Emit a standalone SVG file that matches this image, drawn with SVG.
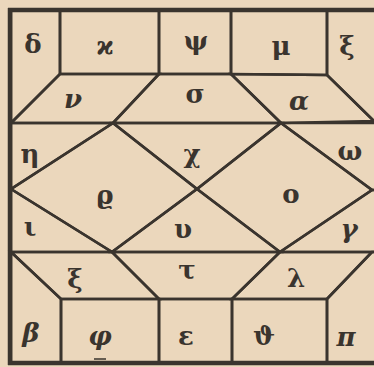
<svg xmlns="http://www.w3.org/2000/svg" width="374" height="367" viewBox="0 0 374 367">
<style>
.c{fill:none;stroke:#3a342e;stroke-width:2.6;stroke-linejoin:miter}
.t{font-family:"DejaVu Serif","Liberation Serif",serif;font-weight:bold;font-size:26px;fill:#3a342e;text-anchor:middle;dominant-baseline:central}
.i{font-style:italic}
.b{fill:none;stroke:#3a342e;stroke-width:4.5}
</style>
<rect width="374" height="367" fill="#ebd7bc"/>
<g id="cell-delta"><polygon class="c" points="11,10 60,10 60,74 11,123"/><text class="t" x="33" y="44">δ</text></g>
<g id="cell-kappa"><polygon class="c" points="60,10 159,10 159,74 60,74"/><text class="t" x="105" y="45">ϰ</text></g>
<g id="cell-psi"><polygon class="c" points="159,10 231,10 231,74 159,74"/><text class="t" x="196" y="41">ψ</text></g>
<g id="cell-mu"><polygon class="c" points="231,10 327,10 327,75 231,74"/><text class="t" x="281" y="46">μ</text></g>
<g id="cell-xi-top"><polygon class="c" points="327,10 380,10 380,123 374,121 327,75"/><text class="t" x="347" y="46">ξ</text></g>
<g id="cell-nu"><polygon class="c" points="60,74 159,74 113,123 11,123"/><text class="t i" x="73" y="99">ν</text></g>
<g id="cell-sigma"><polygon class="c" points="159,74 231,74 281,123 113,123"/><text class="t" x="195" y="94">σ</text></g>
<g id="cell-alpha"><polygon class="c" points="231,74 327,75 374,121 281,123"/><text class="t i" x="299" y="101">α</text></g>
<g id="cell-eta"><polygon class="c" points="11,123 113,123 11,189"/><text class="t" x="30" y="154">η</text></g>
<g id="cell-chi"><polygon class="c" points="113,123 281,123 197,189"/><text class="t" x="192" y="154">χ</text></g>
<g id="cell-omega"><polygon class="c" points="281,123 380,123 380,190 372,190"/><text class="t" x="350" y="151">ω</text></g>
<g id="cell-rho"><polygon class="c" points="113,123 197,189 112,252 11,189"/><text class="t" x="105" y="195">ϱ</text></g>
<g id="cell-omicron"><polygon class="c" points="281,123 372,190 280,252 197,189"/><text class="t" x="291" y="194">ο</text></g>
<g id="cell-iota"><polygon class="c" points="11,189 112,252 11,252"/><text class="t" x="30" y="227">ι</text></g>
<g id="cell-upsilon"><polygon class="c" points="197,189 280,252 112,252"/><text class="t" x="183" y="229">υ</text></g>
<g id="cell-gamma"><polygon class="c" points="372,190 380,190 380,252 280,252"/><text class="t i" x="349" y="229">γ</text></g>
<g id="cell-xi-bottom"><polygon class="c" points="11,252 112,252 159,299 61,299"/><text class="t" x="75" y="279">ξ</text></g>
<g id="cell-tau"><polygon class="c" points="112,252 280,252 232,299 159,299"/><text class="t" x="187" y="270">τ</text></g>
<g id="cell-lambda"><polygon class="c" points="280,252 372,252 327,299 232,299"/><text class="t" x="296" y="278">λ</text></g>
<g id="cell-beta"><polygon class="c" points="11,252 61,299 61,363 11,363"/><text class="t i" x="31" y="333">β</text></g>
<g id="cell-phi"><polygon class="c" points="61,299 159,299 159,363 61,363"/><text class="t i" x="100" y="336">φ</text><line x1="94" y1="359" x2="106" y2="359" stroke="#3a342e" stroke-width="1.5"/></g>
<g id="cell-epsilon"><polygon class="c" points="159,299 232,299 232,363 159,363"/><text class="t" x="186" y="336">ε</text></g>
<g id="cell-theta"><polygon class="c" points="232,299 327,299 327,363 232,363"/><text class="t" x="264" y="336">ϑ</text></g>
<g id="cell-pi"><polygon class="c" points="327,299 372,252 380,252 380,363 327,363"/><text class="t i" x="346" y="337">π</text></g>
<g id="frame"><path class="b" d="M10,8 V365 M8,10 H380 M8,363 H380"/></g>
</svg>
